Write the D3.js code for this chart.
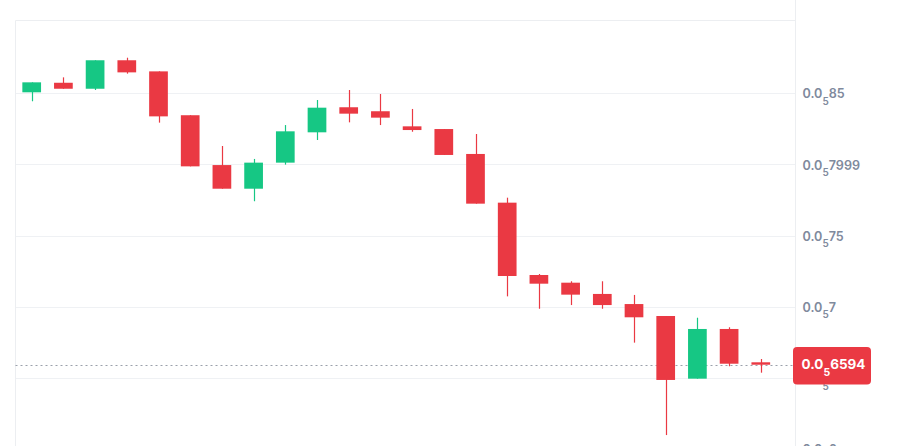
<!DOCTYPE html>
<html><head><meta charset="utf-8">
<script src="https://cdn.jsdelivr.net/npm/d3@7/dist/d3.min.js"></script>
<style>html,body{margin:0;padding:0;background:#fff;}svg{display:block;}</style>
</head><body>
<svg id="c" width="901" height="446"></svg>
<script>
// values in units of 1e-6 (0.0₅85 = 0.00000085)
const opens  = [0.8507,0.8574,0.8532,0.8732,0.8654,0.8346,0.7996,0.7830,0.8013,0.8226,0.8402,0.8374,0.8268,0.8249,0.8074,0.7732,0.7224,0.7170,0.7091,0.7020,0.6936,0.6496,0.6845,0.6611];
const highs  = [0.8577,0.8612,0.8732,0.8750,0.8654,0.8346,0.8130,0.8039,0.8277,0.8453,0.8523,0.8495,0.8390,0.8249,0.8214,0.7767,0.7231,0.7180,0.7180,0.7084,0.6936,0.6924,0.6857,0.6634];
const lows   = [0.8444,0.8532,0.8523,0.8638,0.8294,0.7987,0.7830,0.7742,0.7999,0.8172,0.8296,0.8277,0.8230,0.8067,0.7725,0.7074,0.6987,0.7013,0.6987,0.6749,0.6100,0.6496,0.6583,0.6538];
const closes = [0.8577,0.8532,0.8732,0.8647,0.8338,0.7987,0.7830,0.8013,0.8233,0.8399,0.8357,0.8329,0.8242,0.8067,0.7725,0.7217,0.7163,0.7086,0.7013,0.6927,0.6487,0.6845,0.6601,0.6594];
const tickValues = [0.85, 0.8, 0.75, 0.7, 0.65, 0.6];
const tickLabels = ["85", "7999", "75", "7", "65", "6"];
const currentPrice = 0.6594;
const currentLabel = "6594";
const prefix = "0.0", zeroCount = "5";

(function () {
const GREEN = "#16c784", RED = "#ea3943";
const svg = d3.select("#c");
const pL = 15.5, pR = 795.5, pT = 20.5;

const idx = d3.range(opens.length);
const x = d3.scaleBand().domain(idx).range([15.85, 15.85 + 31.7 * opens.length]).paddingInner(0.41).paddingOuter(0.205);
const y = d3.scaleLinear().domain([0.65, 0.85]).range([378.1, 93.3]);

// gridlines
svg.append("g").selectAll("line").data(tickValues).join("line")
  .attr("x1", pL).attr("x2", pR)
  .attr("y1", d => Math.round(y(d)) + 0.5).attr("y2", d => Math.round(y(d)) + 0.5)
  .attr("stroke", "#eff1f4").attr("stroke-width", 1);

// borders
svg.append("line").attr("x1", pL).attr("x2", pR).attr("y1", pT).attr("y2", pT).attr("stroke", "#eceef1");
svg.append("line").attr("x1", pL).attr("x2", pL).attr("y1", pT).attr("y2", 446).attr("stroke", "#eceef1");
svg.append("line").attr("x1", pR).attr("x2", pR).attr("y1", 0).attr("y2", 446).attr("stroke", "#eceef1");

// y labels
const yl = svg.append("g").selectAll("text").data(tickValues).join("text")
  .attr("x", 802.5).attr("y", d => y(d) + 5)
  .attr("font-family", "Inter, 'Open Sans', sans-serif").attr("font-size", 12.6).attr("font-weight", 600)
  .attr("fill", "#808a9d");
yl.append("tspan").text(prefix);
yl.append("tspan").attr("dy", 6.5).attr("font-size", 10).text(zeroCount);
yl.append("tspan").attr("dy", -6.5).text((d, i) => tickLabels[i]);

// current price dotted line
svg.append("line").attr("x1", pL).attr("x2", pR)
  .attr("y1", Math.round(y(currentPrice)) + 0.5).attr("y2", Math.round(y(currentPrice)) + 0.5)
  .attr("stroke", "#9aa0ab").attr("stroke-width", 1).attr("stroke-dasharray", "2,3");

// candles
const g = svg.append("g");
const col = i => closes[i] >= opens[i] ? GREEN : RED;
g.selectAll("line.w").data(idx).join("line").attr("class", "w")
  .attr("x1", i => Math.round(x(i) + x.bandwidth() / 2) + 0.5)
  .attr("x2", i => Math.round(x(i) + x.bandwidth() / 2) + 0.5)
  .attr("y1", i => y(highs[i])).attr("y2", i => y(lows[i]))
  .attr("stroke", col).attr("stroke-width", 1.2);
g.selectAll("rect.b").data(idx).join("rect").attr("class", "b")
  .attr("x", i => x(i)).attr("width", x.bandwidth())
  .attr("y", i => y(Math.max(opens[i], closes[i])))
  .attr("height", i => Math.max(1.5, Math.abs(y(opens[i]) - y(closes[i]))))
  .attr("fill", col);

// current price tag
const py = y(currentPrice);
svg.append("rect").attr("x", 793).attr("y", 347).attr("width", 78).attr("height", 37.5).attr("rx", 4)
  .attr("fill", RED);
const pt = svg.append("text").attr("x", 801.5).attr("y", py + 4.5)
  .attr("font-family", "Inter, 'Open Sans', sans-serif").attr("font-size", 13.5).attr("font-weight", 700)
  .attr("fill", "#fff");
pt.append("tspan").text(prefix);
pt.append("tspan").attr("dy", 6.5).attr("font-size", 10.5).text(zeroCount);
pt.append("tspan").attr("dy", -6.5).text(currentLabel);
})();
</script>
</body></html>
